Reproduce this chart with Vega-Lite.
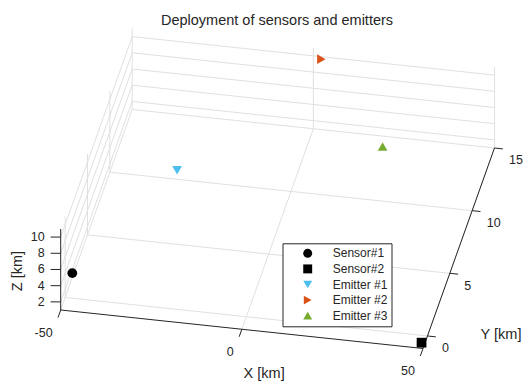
{
  "$schema": "https://vega.github.io/schema/vega-lite/v6.json",
  "description": "3-D deployment of sensors and emitters, drawn through an orthographic view (azimuth about 11 deg, elevation about 33 deg) of a box spanning X -50..50, Y -1..15, Z 1..11 km.",
  "width": 523,
  "height": 382,
  "autosize": {"type": "none"},
  "padding": 0,
  "background": "white",
  "title": {
    "text": "Deployment of sensors and emitters",
    "font": "Liberation Sans",
    "fontSize": 14.5,
    "fontWeight": "normal",
    "color": "#262626",
    "dx": 15.5,
    "offset": -39.7,
    "baseline": "alphabetic"
  },
  "config": {"view": {"stroke": null}, "font": "Liberation Sans"},
  "data": {
    "values": [
      {"kind": "grid", "x": -50, "y": -1, "z": 1, "x2": -50, "y2": 15, "z2": 1},
      {"kind": "grid", "x": 0, "y": -1, "z": 1, "x2": 0, "y2": 15, "z2": 1},
      {"kind": "grid", "x": 50, "y": -1, "z": 1, "x2": 50, "y2": 15, "z2": 1},
      {"kind": "grid", "x": -50, "y": 0, "z": 1, "x2": 50, "y2": 0, "z2": 1},
      {"kind": "grid", "x": -50, "y": 5, "z": 1, "x2": 50, "y2": 5, "z2": 1},
      {"kind": "grid", "x": -50, "y": 10, "z": 1, "x2": 50, "y2": 10, "z2": 1},
      {"kind": "grid", "x": -50, "y": 15, "z": 1, "x2": 50, "y2": 15, "z2": 1},
      {"kind": "grid", "x": -50, "y": 15, "z": 1, "x2": -50, "y2": 15, "z2": 11},
      {"kind": "grid", "x": 0, "y": 15, "z": 1, "x2": 0, "y2": 15, "z2": 11},
      {"kind": "grid", "x": 50, "y": 15, "z": 1, "x2": 50, "y2": 15, "z2": 11},
      {"kind": "grid", "x": -50, "y": 15, "z": 2, "x2": 50, "y2": 15, "z2": 2},
      {"kind": "grid", "x": -50, "y": 15, "z": 4, "x2": 50, "y2": 15, "z2": 4},
      {"kind": "grid", "x": -50, "y": 15, "z": 6, "x2": 50, "y2": 15, "z2": 6},
      {"kind": "grid", "x": -50, "y": 15, "z": 8, "x2": 50, "y2": 15, "z2": 8},
      {"kind": "grid", "x": -50, "y": 15, "z": 10, "x2": 50, "y2": 15, "z2": 10},
      {"kind": "grid", "x": -50, "y": 0, "z": 1, "x2": -50, "y2": 0, "z2": 11},
      {"kind": "grid", "x": -50, "y": 5, "z": 1, "x2": -50, "y2": 5, "z2": 11},
      {"kind": "grid", "x": -50, "y": 10, "z": 1, "x2": -50, "y2": 10, "z2": 11},
      {"kind": "grid", "x": -50, "y": -1, "z": 2, "x2": -50, "y2": 15, "z2": 2},
      {"kind": "grid", "x": -50, "y": -1, "z": 4, "x2": -50, "y2": 15, "z2": 4},
      {"kind": "grid", "x": -50, "y": -1, "z": 6, "x2": -50, "y2": 15, "z2": 6},
      {"kind": "grid", "x": -50, "y": -1, "z": 8, "x2": -50, "y2": 15, "z2": 8},
      {"kind": "grid", "x": -50, "y": -1, "z": 10, "x2": -50, "y2": 15, "z2": 10},

      {"kind": "axis", "x": -50, "y": -1, "z": 1, "x2": 50, "y2": -1, "z2": 1},
      {"kind": "axis", "x": 50, "y": -1, "z": 1, "x2": 50, "y2": 15, "z2": 1},
      {"kind": "axis", "x": -50, "y": -1, "z": 1, "x2": -50, "y2": -1, "z2": 11},
      {"kind": "axis", "x": -50, "y": -1, "z": 1, "x2": -50, "y2": -1.6, "z2": 1},
      {"kind": "axis", "x": 0, "y": -1, "z": 1, "x2": 0, "y2": -1.6, "z2": 1},
      {"kind": "axis", "x": 50, "y": -1, "z": 1, "x2": 50, "y2": -1.6, "z2": 1},
      {"kind": "axis", "x": 50, "y": 0, "z": 1, "x2": 52.3, "y2": 0, "z2": 1},
      {"kind": "axis", "x": 50, "y": 5, "z": 1, "x2": 52.3, "y2": 5, "z2": 1},
      {"kind": "axis", "x": 50, "y": 10, "z": 1, "x2": 52.3, "y2": 10, "z2": 1},
      {"kind": "axis", "x": 50, "y": 15, "z": 1, "x2": 52.3, "y2": 15, "z2": 1},
      {"kind": "axis", "x": -50, "y": -1, "z": 2, "x2": -52.7, "y2": -1.08, "z2": 2},
      {"kind": "axis", "x": -50, "y": -1, "z": 4, "x2": -52.7, "y2": -1.08, "z2": 4},
      {"kind": "axis", "x": -50, "y": -1, "z": 6, "x2": -52.7, "y2": -1.08, "z2": 6},
      {"kind": "axis", "x": -50, "y": -1, "z": 8, "x2": -52.7, "y2": -1.08, "z2": 8},
      {"kind": "axis", "x": -50, "y": -1, "z": 10, "x2": -52.7, "y2": -1.08, "z2": 10},

      {"kind": "xtick", "label": "-50", "x": -50, "y": -2.8, "z": 1},
      {"kind": "xtick", "label": "0", "x": 0, "y": -2.8, "z": 1},
      {"kind": "xtick", "label": "50", "x": 50, "y": -2.8, "z": 1},
      {"kind": "ytick", "label": "0", "x": 55.05, "y": -0.84, "z": 1},
      {"kind": "ytick", "label": "5", "x": 55.05, "y": 4.16, "z": 1},
      {"kind": "ytick", "label": "10", "x": 55.05, "y": 9.16, "z": 1},
      {"kind": "ytick", "label": "15", "x": 55.05, "y": 14.16, "z": 1},
      {"kind": "ztick", "label": "2", "x": -54.27, "y": -1.13, "z": 2},
      {"kind": "ztick", "label": "4", "x": -54.27, "y": -1.13, "z": 4},
      {"kind": "ztick", "label": "6", "x": -54.27, "y": -1.13, "z": 6},
      {"kind": "ztick", "label": "8", "x": -54.27, "y": -1.13, "z": 8},
      {"kind": "ztick", "label": "10", "x": -54.27, "y": -1.13, "z": 10},
      {"kind": "title", "label": "X [km]", "x": 10.16, "y": -4.25, "z": 1},
      {"kind": "title", "label": "Y [km]", "x": 69.42, "y": 0.71, "z": 1},
      {"kind": "ztitle", "label": "Z [km]", "x": -61.28, "y": -1.346, "z": 5.81},

      {"kind": "point", "name": "Sensor#1", "x": -46.8, "y": -1, "z": 5.7},
      {"kind": "point", "name": "Sensor#2", "x": 49.6, "y": -1, "z": 1.7},
      {"kind": "point", "name": "Emitter #1", "x": -32.3, "y": 10.7, "z": 1},
      {"kind": "point", "name": "Emitter #2", "x": 2.2, "y": 15, "z": 9.7},
      {"kind": "point", "name": "Emitter #3", "x": 20.1, "y": 14.2, "z": 1}
    ]
  },
  "transform": [
    {"calculate": "(datum.x + 50) / 100 - 0.5", "as": "nx"},
    {"calculate": "(datum.y + 1) / 16 - 0.5", "as": "ny"},
    {"calculate": "(datum.z - 1) / 10 - 0.5", "as": "nz"},
    {"calculate": "(datum.x2 + 50) / 100 - 0.5", "as": "nx2"},
    {"calculate": "(datum.y2 + 1) / 16 - 0.5", "as": "ny2"},
    {"calculate": "(datum.z2 - 1) / 10 - 0.5", "as": "nz2"},
    {"calculate": "0.98160 * datum.nx + 0.19371 * datum.ny", "as": "u"},
    {"calculate": "-0.10431 * datum.nx + 0.54324 * datum.ny + 0.21944 * datum.nz", "as": "v"},
    {"calculate": "0.98160 * datum.nx2 + 0.19371 * datum.ny2", "as": "u2"},
    {"calculate": "-0.10431 * datum.nx2 + 0.54324 * datum.ny2 + 0.21944 * datum.nz2", "as": "v2"}
  ],
  "encoding": {
    "x": {"field": "u", "type": "quantitative", "scale": {"domain": [-0.75212, 0.66488], "nice": false, "zero": false}, "axis": null},
    "y": {"field": "v", "type": "quantitative", "scale": {"domain": [-0.52426, 0.51072], "nice": false, "zero": false}, "axis": null}
  },
  "layer": [
    {
      "transform": [{"filter": "datum.kind === 'grid'"}],
      "mark": {"type": "rule", "color": "#E0E0E0", "strokeWidth": 1},
      "encoding": {"x2": {"field": "u2"}, "y2": {"field": "v2"}}
    },
    {
      "transform": [{"filter": "datum.kind === 'axis'"}],
      "mark": {"type": "rule", "color": "#262626", "strokeWidth": 1},
      "encoding": {"x2": {"field": "u2"}, "y2": {"field": "v2"}}
    },
    {
      "transform": [{"filter": "datum.kind === 'xtick' || datum.kind === 'ztick'"}],
      "mark": {"type": "text", "align": "right", "baseline": "middle", "fontSize": 12.5, "color": "#262626"},
      "encoding": {"text": {"field": "label"}}
    },
    {
      "transform": [{"filter": "datum.kind === 'ytick'"}],
      "mark": {"type": "text", "align": "left", "baseline": "middle", "fontSize": 12.5, "color": "#262626"},
      "encoding": {"text": {"field": "label"}}
    },
    {
      "transform": [{"filter": "datum.kind === 'title'"}],
      "mark": {"type": "text", "align": "center", "baseline": "middle", "fontSize": 14.5, "color": "#262626"},
      "encoding": {"text": {"field": "label"}}
    },
    {
      "transform": [{"filter": "datum.kind === 'ztitle'"}],
      "mark": {"type": "text", "align": "center", "baseline": "middle", "fontSize": 14.5, "angle": 270, "color": "#262626"},
      "encoding": {"text": {"field": "label"}}
    },
    {
      "transform": [{"filter": "datum.kind === 'point'"}],
      "mark": {"type": "point", "filled": true, "opacity": 1, "size": 95, "strokeWidth": 0},
      "encoding": {
        "shape": {
          "field": "name",
          "type": "nominal",
          "scale": {
            "domain": ["Sensor#1", "Sensor#2", "Emitter #1", "Emitter #2", "Emitter #3"],
            "range": ["circle", "square", "triangle-down", "triangle-right", "triangle-up"]
          },
          "legend": {
            "title": null, "orient": "none", "legendX": 282.5, "legendY": 243.3,
            "padding": 4, "strokeColor": "#262626", "fillColor": "white", "cornerRadius": 0,
            "labelFont": "Liberation Sans", "labelFontSize": 12, "labelColor": "#262626",
            "symbolSize": 80, "symbolStrokeWidth": 0, "rowPadding": 3.6,
            "symbolOffset": 15.2, "labelOffset": 19
          }
        },
        "color": {
          "field": "name",
          "type": "nominal",
          "scale": {
            "domain": ["Sensor#1", "Sensor#2", "Emitter #1", "Emitter #2", "Emitter #3"],
            "range": ["#000000", "#000000", "#4DBEEE", "#D95319", "#77AC30"]
          },
          "legend": {
            "title": null, "orient": "none", "legendX": 282.5, "legendY": 243.3,
            "padding": 4, "strokeColor": "#262626", "fillColor": "white", "cornerRadius": 0,
            "labelFont": "Liberation Sans", "labelFontSize": 12, "labelColor": "#262626",
            "symbolSize": 80, "symbolStrokeWidth": 0, "rowPadding": 3.6,
            "symbolOffset": 15.2, "labelOffset": 19
          }
        }
      }
    }
  ]
}
